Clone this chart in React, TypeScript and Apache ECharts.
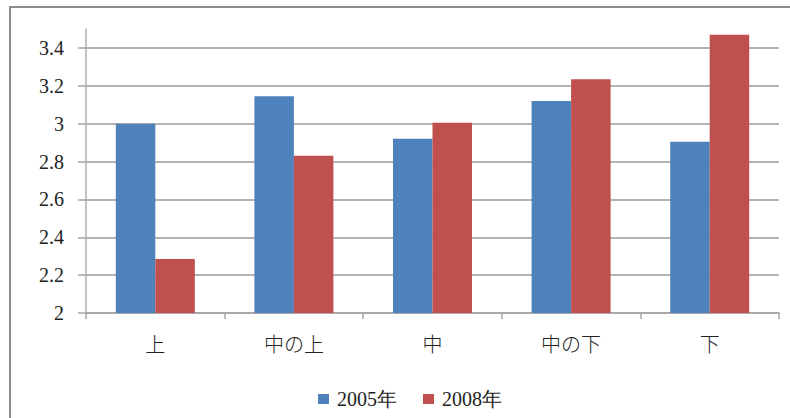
import React, { useEffect, useRef } from "react";
import * as echarts from "echarts";

// Categories and survey averages
const categories = ["上", "中の上", "中", "中の下", "下"];
const seriesNames = ["2005年", "2008年"];
const values2005 = [3.0, 3.145, 2.92, 3.12, 2.905];
const values2008 = [2.285, 2.83, 3.005, 3.235, 3.47];
const yTicks = [2, 2.2, 2.4, 2.6, 2.8, 3, 3.2, 3.4];

const BLUE = "#4F81BD";
const RED = "#C0504D";
const SERIF = "Liberation Serif";
const CJK = "Noto Sans CJK JP";

export default function App() {
  const ref = useRef<HTMLDivElement>(null);

  useEffect(() => {
    if (!ref.current) return;
    const chart = echarts.init(ref.current, undefined, { renderer: "svg" });
    chart.setOption({
      animation: false,
      backgroundColor: "#ffffff",
      textStyle: { fontFamily: SERIF, color: "#222" },
      graphic: [
        {
          type: "rect",
          shape: { x: 10, y: 7, width: 820, height: 440 },
          style: { fill: "none", stroke: "#8c8c8c", lineWidth: 2 },
          silent: true,
        },
      ],
      grid: { left: 86, right: 11, top: 29, bottom: 105, containLabel: false },
      legend: {
        data: seriesNames,
        left: 313,
        top: 384,
        itemWidth: 11,
        itemHeight: 10,
        itemGap: 26,
        icon: "rect",
        textStyle: { fontFamily: SERIF, fontSize: 20, color: "#222", padding: [0, 0, 0, 3] },
      },
      xAxis: {
        type: "category",
        data: categories,
        boundaryGap: true,
        axisLine: { show: true, lineStyle: { color: "#a6a6a6", width: 1.5 } },
        axisTick: { show: true, length: 6, inside: false, lineStyle: { color: "#a6a6a6", width: 1.5 } },
        axisLabel: {
          margin: 20,
          fontFamily: CJK,
          fontSize: 20,
          fontWeight: 300,
          color: "#222",
        },
        splitLine: { show: false },
      },
      yAxis: {
        type: "value",
        min: 2,
        max: 3.5,
        interval: 0.2,
        axisLine: { show: true, lineStyle: { color: "#b0b0b0", width: 1.5 } },
        axisTick: {
          show: true,
          length: 8,
          customValues: yTicks,
          lineStyle: { color: "#a6a6a6", width: 1.5 },
        },
        axisLabel: {
          margin: 22,
          fontFamily: SERIF,
          fontSize: 20,
          color: "#222",
          customValues: yTicks,
          formatter: (v: number) => String(Math.round(v * 10) / 10),
        },
        splitLine: {
          show: true,
          lineStyle: { color: "#9a9a9a", width: 1.5 },
        },
      },
      series: [
        {
          name: seriesNames[0],
          type: "bar",
          data: values2005,
          itemStyle: { color: BLUE },
          barGap: "0%",
          barCategoryGap: "43%",
        },
        {
          name: seriesNames[1],
          type: "bar",
          data: values2008,
          itemStyle: { color: RED },
          barGap: "0%",
          barCategoryGap: "43%",
        },
      ],
    });
    return () => chart.dispose();
  }, []);

  return (
    <div
      ref={ref}
      style={{ position: "absolute", left: 0, top: 0, width: 790, height: 418 }}
    />
  );
}
